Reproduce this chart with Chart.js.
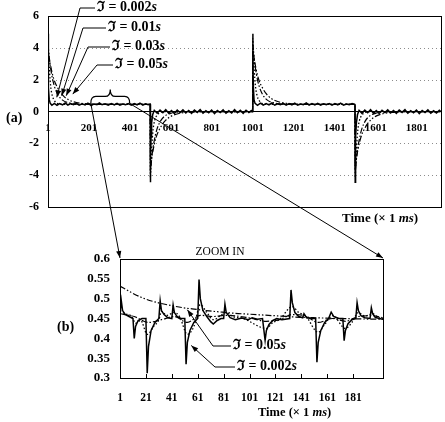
<!DOCTYPE html>
<html lang="en">
<head>
  <meta charset="UTF-8">
  <title>Filter response</title>
  <script src="https://cdn.jsdelivr.net/npm/chart.js"></script>
  <style>
    body { margin: 0; background: #fff; }
    #wrap { position: relative; width: 445px; height: 422px; }
    #topBox { position: absolute; left: 0; top: 0; width: 445px; height: 235px; }
    #botBox { position: absolute; left: 0; top: 240px; width: 445px; height: 182px; }
    #notes { position: absolute; left: 0; top: 0; pointer-events: none; }
  </style>
</head>
<body>
  <div id="wrap">
    <div id="topBox"><canvas id="graphA"></canvas></div>
    <div id="botBox"><canvas id="graphB"></canvas></div>
    <svg id="notes" width="445" height="422"></svg>
  </div>
  <script>
    // ---- data ----
    const seriesNames = ['ℑ = 0.002s', 'ℑ = 0.01s', 'ℑ = 0.03s', 'ℑ = 0.05s'];

    const topTimeTicks = [1, 201, 401, 601, 801, 1001, 1201, 1401, 1601, 1801];
    const topLevelTicks = [-6, -4, -2, 0, 2, 4, 6];
    const bottomTimeTicks = [1, 21, 41, 61, 81, 101, 121, 141, 161, 181];
    const bottomLevelTicks = [0.3, 0.35, 0.4, 0.45, 0.5, 0.55, 0.6];
    const bottomLevelLabels = ['0.3', '0.35', '0.4', '0.45', '0.5', '0.55', '0.6'];

    // (a) full run, [time, value]
    const topT002 = [
      [1,4.9],[2,3.1],[4,1.5],[7,0.75],[12,0.52],[20,0.4],[32,0.52],[45,0.4],[58,0.5],[72,0.42],[85,0.55],[98,0.41],
      [112,0.5],[125,0.43],[140,0.52],[153,0.4],[168,0.49],[182,0.42],[196,0.53],[212,0.38],[226,0.48],[240,0.44],
      [252,0.55],[265,0.43],[280,0.49],[295,0.4],[310,0.5],[325,0.42],[338,0.52],[352,0.4],[366,0.47],[380,0.43],
      [393,0.51],[408,0.41],[422,0.5],[436,0.42],[450,0.53],[464,0.41],[478,0.49],[490,0.43],[500,0.46],
      [501,-4.45],[502,-3.0],[504,-1.6],[507,-0.7],[512,-0.2],[520,0.08],[534,-0.1],[548,0.1],[562,-0.07],[576,0.12],
      [590,-0.1],[604,0.06],[618,-0.12],[632,0.09],[646,-0.06],[660,0.11],[674,-0.09],[688,0.07],[702,-0.11],[716,0.1],
      [730,-0.05],[744,0.12],[758,-0.1],[772,0.06],[786,-0.08],[800,0.1],[814,-0.12],[828,0.07],[842,-0.06],[856,0.11],
      [870,-0.1],[884,0.05],[898,-0.09],[912,0.12],[926,-0.07],[940,0.08],[954,-0.11],[968,0.09],[982,-0.06],[994,0.07],[1000,0],
      [1001,4.9],[1002,3.1],[1004,1.5],[1007,0.75],[1012,0.52],[1024,0.4],[1038,0.53],[1052,0.41],[1066,0.5],[1080,0.42],
      [1094,0.54],[1108,0.4],[1122,0.49],[1136,0.43],[1150,0.52],[1164,0.41],[1178,0.5],[1192,0.42],[1206,0.53],[1220,0.4],
      [1234,0.48],[1248,0.43],[1262,0.55],[1276,0.41],[1290,0.5],[1304,0.42],[1318,0.52],[1332,0.4],[1346,0.49],[1360,0.43],
      [1374,0.51],[1388,0.41],[1402,0.5],[1416,0.42],[1430,0.53],[1444,0.4],[1458,0.48],[1472,0.43],[1486,0.51],[1500,0.45],
      [1501,-4.45],[1502,-3.0],[1504,-1.6],[1507,-0.7],[1512,-0.2],[1520,0.08],[1534,-0.11],[1548,0.09],[1562,-0.07],[1576,0.12],
      [1590,-0.1],[1604,0.06],[1618,-0.12],[1632,0.08],[1646,-0.06],[1660,0.11],[1674,-0.09],[1688,0.07],[1702,-0.11],[1716,0.1],
      [1730,-0.05],[1744,0.12],[1758,-0.1],[1772,0.06],[1786,-0.08],[1800,0.1],[1814,-0.12],[1828,0.07],[1842,-0.06],[1856,0.11],
      [1870,-0.1],[1884,0.05],[1898,-0.09],[1912,0.08],[1920,0]
    ];
    const topT01 = [
      [1,4.6],[4,3.6],[8,2.6],[14,1.6],[22,1.0],[32,0.7],[45,0.53],[60,0.47],[80,0.45],[500,0.45],
      [501,-4.15],[504,-3.15],[508,-2.15],[514,-1.15],[522,-0.55],[532,-0.25],[545,-0.08],[560,-0.02],[580,0],[1000,0],
      [1001,4.6],[1004,3.6],[1008,2.6],[1014,1.6],[1022,1.0],[1032,0.7],[1045,0.53],[1060,0.47],[1080,0.45],[1500,0.45],
      [1501,-4.15],[1504,-3.15],[1508,-2.15],[1514,-1.15],[1522,-0.55],[1532,-0.25],[1545,-0.08],[1560,-0.02],[1580,0],[1920,0]
    ];
    const topT03 = [
      [1,4.2],[8,3.3],[18,2.4],[32,1.6],[50,1.05],[72,0.72],[100,0.56],[135,0.48],[180,0.45],[500,0.45],
      [501,-3.75],[508,-2.85],[518,-1.95],[532,-1.15],[550,-0.6],[572,-0.27],[600,-0.11],[635,-0.03],[680,0],[1000,0],
      [1001,4.2],[1008,3.3],[1018,2.4],[1032,1.6],[1050,1.05],[1072,0.72],[1100,0.56],[1135,0.48],[1180,0.45],[1500,0.45],
      [1501,-3.75],[1508,-2.85],[1518,-1.95],[1532,-1.15],[1550,-0.6],[1572,-0.27],[1600,-0.11],[1635,-0.03],[1680,0],[1920,0]
    ];
    const topT05 = [
      [1,3.8],[12,3.0],[28,2.1],[50,1.45],[75,1.0],[105,0.72],[140,0.57],[180,0.5],[230,0.46],[280,0.45],[500,0.45],
      [501,-3.35],[512,-2.55],[528,-1.65],[550,-1.0],[575,-0.55],[605,-0.27],[640,-0.12],[680,-0.05],[730,-0.01],[780,0],[1000,0],
      [1001,3.8],[1012,3.0],[1028,2.1],[1050,1.45],[1075,1.0],[1105,0.72],[1140,0.57],[1180,0.5],[1230,0.46],[1280,0.45],[1500,0.45],
      [1501,-3.35],[1512,-2.55],[1528,-1.65],[1550,-1.0],[1575,-0.55],[1605,-0.27],[1640,-0.12],[1680,-0.05],[1730,-0.01],[1780,0],[1920,0]
    ];

    // (b) zoomed window, [time, value]
    const botT002 = [
      [1,0.46],[2,0.495],[3,0.47],[5,0.46],[8,0.455],[11,0.45],[12,0.4],[13,0.43],[15,0.445],[18,0.45],[21,0.45],
      [22,0.312],[23,0.38],[25,0.42],[28,0.44],[31,0.45],[32,0.495],[33,0.47],[35,0.46],[38,0.452],[41,0.45],
      [42,0.484],[43,0.465],[45,0.455],[48,0.45],[51,0.45],[52,0.335],[53,0.39],[55,0.42],[58,0.44],[61,0.45],
      [62,0.548],[63,0.5],[65,0.47],[68,0.455],[71,0.442],[73,0.436],[76,0.445],[79,0.45],[81,0.45],[82,0.486],
      [83,0.465],[86,0.452],[90,0.447],[95,0.451],[100,0.447],[103,0.452],[107,0.448],[111,0.45],[113,0.395],
      [114,0.42],[116,0.435],[119,0.445],[122,0.45],[126,0.447],[132,0.45],[133,0.522],[134,0.49],[136,0.465],
      [139,0.455],[142,0.452],[143,0.462],[145,0.452],[149,0.45],[152,0.45],[153,0.34],[154,0.39],[156,0.42],
      [159,0.44],[162,0.45],[164,0.466],[166,0.455],[170,0.45],[173,0.45],[174,0.394],[175,0.42],[177,0.437],
      [180,0.447],[183,0.45],[184,0.49],[185,0.47],[187,0.457],[190,0.452],[194,0.45],[195,0.477],[196,0.462],
      [198,0.453],[201,0.45],[204,0.448]
    ];
    const botT01 = [
      [1,0.47],[5,0.462],[10,0.455],[13,0.438],[17,0.445],[22,0.41],[27,0.43],[31,0.447],[33,0.468],[37,0.458],
      [43,0.465],[47,0.455],[53,0.41],[58,0.43],[63,0.485],[68,0.465],[73,0.447],[83,0.465],[88,0.455],[96,0.45],
      [114,0.425],[119,0.44],[124,0.447],[134,0.48],[139,0.465],[144,0.458],[154,0.415],[159,0.435],[165,0.457],
      [175,0.425],[180,0.44],[185,0.465],[190,0.456],[196,0.462],[200,0.453],[204,0.45]
    ];
    const botT03 = [
      [1,0.462],[12,0.455],[23,0.44],[33,0.447],[43,0.455],[53,0.44],[63,0.458],[73,0.455],[83,0.458],[100,0.452],
      [114,0.443],[125,0.448],[134,0.46],[144,0.457],[154,0.44],[165,0.45],[175,0.443],[185,0.455],[196,0.457],[204,0.452]
    ];
    const botT05 = [
      [1,0.532],[10,0.515],[20,0.5],[30,0.49],[40,0.483],[50,0.477],[60,0.473],[70,0.469],[80,0.466],[90,0.463],
      [100,0.461],[110,0.459],[120,0.457],[130,0.455],[140,0.453],[150,0.452],[160,0.451],[170,0.45],[185,0.449],[204,0.448]
    ];

    // ---- styling ----
    const lineDash = [[], [1.5, 2], [6, 2, 1.5, 2], [6, 2, 1.5, 2, 1.5, 2]];
    const lineWidth = [1.5, 1.3, 1.2, 1.2];
    const serif = "'Liberation Serif', 'DejaVu Serif', serif";

    Chart.defaults.font.family = serif;
    Chart.defaults.font.weight = 'bold';
    Chart.defaults.color = '#000';

    function makeSets(list) {
      return list.map((pts, i) => ({
        label: seriesNames[i],
        data: pts.map(p => ({ x: p[0], y: p[1] })),
        borderColor: '#000',
        borderWidth: lineWidth[i],
        borderDash: lineDash[i],
        pointRadius: 0,
        fill: false,
        tension: 0,
        cubicInterpolationMode: i === 0 ? 'default' : 'monotone'
      }));
    }

    // frame, dotted guide lines and inward ticks
    const framePlugin = {
      id: 'frame',
      beforeDatasetsDraw(chart, args, opts) {
        if (!opts.dotted) return;
        const { ctx, chartArea: a } = chart;
        ctx.save();
        ctx.strokeStyle = '#8c8c8c';
        ctx.lineWidth = 1;
        ctx.setLineDash([1, 3]);
        opts.dotted.forEach(v => {
          const y = Math.round(chart.scales.y.getPixelForValue(v)) + 0.5;
          ctx.beginPath(); ctx.moveTo(a.left, y); ctx.lineTo(a.right, y); ctx.stroke();
        });
        ctx.restore();
      },
      afterDatasetsDraw(chart, args, opts) {
        const { ctx, chartArea: a } = chart;
        ctx.save();
        ctx.strokeStyle = '#000';
        ctx.lineWidth = 1;
        ctx.setLineDash([]);
        ctx.strokeRect(Math.round(a.left) + 0.5, Math.round(a.top) + 0.5, Math.round(a.right - a.left), Math.round(a.bottom - a.top));
        if (opts.innerTicks) {
          chart.scales.x.ticks.forEach(t => {
            const x = Math.round(chart.scales.x.getPixelForValue(t.value)) + 0.5;
            ctx.beginPath(); ctx.moveTo(x, a.bottom); ctx.lineTo(x, a.bottom - 4); ctx.stroke();
          });
        }
        ctx.restore();
      }
    };

    const chartA = new Chart(document.getElementById('graphA'), {
      type: 'line',
      plugins: [framePlugin],
      data: { datasets: makeSets([topT002, topT01, topT03, topT05]) },
      options: {
        animation: false,
        responsive: true,
        maintainAspectRatio: false,
        layout: { padding: { top: 15, right: 4, bottom: 28, left: 0 } },
        plugins: { legend: { display: false }, tooltip: { enabled: false }, frame: { dotted: [-4, -2, 2, 4] } },
        scales: {
          x: {
            type: 'linear', position: { y: 0 }, min: 1, max: 1920,
            afterBuildTicks: s => { s.ticks = topTimeTicks.map(v => ({ value: v })); },
            afterFit: s => { s.height = 0; },
            ticks: { padding: 10, autoSkip: false, maxRotation: 0, font: { size: 11, weight: 'bold' },
                     callback: v => String(v) },
            grid: { display: false, drawTicks: false },
            border: { display: true, color: '#000', width: 1 }
          },
          y: {
            min: -6, max: 6,
            afterBuildTicks: s => { s.ticks = topLevelTicks.map(v => ({ value: v })); },
            afterFit: s => { s.width = 48; },
            ticks: { padding: 9, autoSkip: false, font: { size: 12, weight: 'bold' } },
            grid: { display: false, drawTicks: false },
            border: { display: true, color: '#000', width: 1 }
          }
        }
      }
    });

    const chartB = new Chart(document.getElementById('graphB'), {
      type: 'line',
      plugins: [framePlugin],
      data: { datasets: makeSets([botT002, botT01, botT03, botT05]) },
      options: {
        animation: false,
        responsive: true,
        maintainAspectRatio: false,
        layout: { padding: { top: 19, right: 62, bottom: 0, left: 0 } },
        plugins: { legend: { display: false }, tooltip: { enabled: false }, frame: { innerTicks: true } },
        scales: {
          x: {
            type: 'linear', position: 'bottom', min: 1, max: 204,
            afterBuildTicks: s => { s.ticks = bottomTimeTicks.map(v => ({ value: v })); },
            afterFit: s => { s.height = 44; },
            ticks: { padding: 13, autoSkip: false, maxRotation: 0, font: { size: 11.5, weight: 'bold' },
                     callback: v => String(v) },
            grid: { display: false, drawTicks: false },
            border: { display: true, color: '#000', width: 1 }
          },
          y: {
            min: 0.3, max: 0.6,
            afterBuildTicks: s => { s.ticks = bottomLevelTicks.map(v => ({ value: v })); },
            afterFit: s => { s.width = 120; },
            ticks: { padding: 10, autoSkip: false, font: { size: 13, weight: 'bold' },
                     callback: (v, i) => bottomLevelLabels[i] },
            grid: { display: false, drawTicks: false },
            border: { display: true, color: '#000', width: 1 }
          }
        }
      }
    });

    // ---- annotations (arrows, brace, labels) ----
    const NS = 'http://www.w3.org/2000/svg';
    const svg = document.getElementById('notes');
    const botTop = 240;

    function el(tag, attrs, parent) {
      const e = document.createElementNS(NS, tag);
      for (const k in attrs) e.setAttribute(k, attrs[k]);
      (parent || svg).appendChild(e);
      return e;
    }
    function poly(pts) {
      el('polyline', { points: pts.map(p => p.join(',')).join(' '), fill: 'none', stroke: '#000', 'stroke-width': 1 });
    }
    function head(x1, y1, x2, y2) {
      const a = Math.atan2(y2 - y1, x2 - x1), len = 7, w = 2.6;
      const bx = x2 - len * Math.cos(a), by = y2 - len * Math.sin(a);
      const p = [[x2, y2], [bx + w * Math.sin(a), by - w * Math.cos(a)], [bx - w * Math.sin(a), by + w * Math.cos(a)]];
      el('polygon', { points: p.map(q => q.join(',')).join(' '), fill: '#000' });
    }
    function text(x, y, parts, size, weight, anchor) {
      const t = el('text', { x, y, 'font-size': size, 'font-weight': weight || 'bold', 'font-family': serif,
                             'dominant-baseline': 'middle', 'text-anchor': anchor || 'start', fill: '#000' });
      parts.forEach(p => {
        const s = el('tspan', p[1] ? { 'font-style': 'italic' } : {}, t);
        s.textContent = p[0];
      });
    }
    function note(n, scales, offY) {
      const tx = scales.x.getPixelForValue(n.tip[0]);
      const ty = scales.y.getPixelForValue(n.tip[1]) + offY;
      poly([[n.tx - 2, n.ty], [n.kx, n.ty], [tx, ty]]);
      head(n.kx, n.ty, tx, ty);
      text(n.tx, n.ty, [['ℑ = ' + n.num, false], ['s', true]], 14);
    }

    const sA = chartA.scales, sB = chartB.scales;
    [
      { num: '0.002', tx: 97, ty: 8, kx: 80, tip: [44, 0.9] },
      { num: '0.01', tx: 108, ty: 28, kx: 83, tip: [68, 1.0] },
      { num: '0.03', tx: 112, ty: 47, kx: 88, tip: [90, 1.0] },
      { num: '0.05', tx: 115, ty: 65, kx: 97, tip: [122, 1.1] }
    ].forEach(n => note(n, sA, 0));
    [
      { num: '0.05', tx: 233, ty: 346, kx: 213, tip: [53, 0.472] },
      { num: '0.002', tx: 237, ty: 367, kx: 215, tip: [56, 0.382] }
    ].forEach(n => note(n, sB, botTop));

    // brace over the zoomed window and the two zoom arrows
    const x0 = sA.x.getPixelForValue(210), x1 = sA.x.getPixelForValue(400);
    const yb = sA.y.getPixelForValue(0.45) - 1, xm = (x0 + x1) / 2;
    el('path', { d: `M${x0},${yb} Q${x0},${yb - 7} ${x0 + 5},${yb - 7} L${xm - 5},${yb - 7} Q${xm},${yb - 7} ${xm},${yb - 14} ` +
                    `Q${xm},${yb - 7} ${xm + 5},${yb - 7} L${x1 - 5},${yb - 7} Q${x1},${yb - 7} ${x1},${yb}`,
                 fill: 'none', stroke: '#000', 'stroke-width': 1.2 });
    const bL = sB.x.left, bR = sB.x.right, bT = chartB.chartArea.top + botTop - 1;
    poly([[x0, yb], [bL, bT]]); head(x0, yb, bL, bT);
    poly([[x1, yb], [bR, bT]]); head(x1, yb, bR, bT);

    text(220, 252, [['ZOOM IN', false]], 11.5, 'normal', 'middle');
    text(6, 119, [['(a)', false]], 14);
    text(57, 328, [['(b)', false]], 14);
    text(342, 219, [['Time (× 1 ', false], ['ms', true], [')', false]], 13);
    text(258, 413, [['Time (× 1 ', false], ['ms', true], [')', false]], 12.5);
  </script>
</body>
</html>
